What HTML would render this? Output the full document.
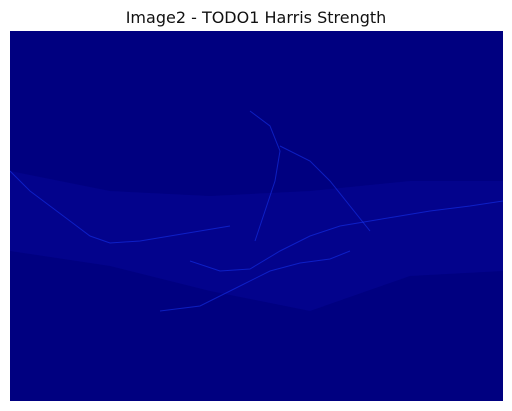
<!DOCTYPE html>
<html><head><meta charset="utf-8"><style>
html,body{margin:0;padding:0;background:#fff;width:512px;height:411px;overflow:hidden}
</style></head><body>
<svg width="512" height="411" xmlns="http://www.w3.org/2000/svg">
<text x="256" y="23" text-anchor="middle" font-family="DejaVu Sans, Liberation Sans, sans-serif" font-size="16" fill="#111">Image2 - TODO1 Harris Strength</text>
<rect x="10" y="31" width="493" height="370" fill="#000080"/>
<defs><clipPath id="c"><rect x="10" y="31" width="493" height="370"/></clipPath></defs>
<g id="marks" clip-path="url(#c)"></g>
</svg>
<script>
// image-space (0..493 x 0..370) feature traces of strong response
const ridgeA = [[0,140],[20,160],[40,175],[60,190],[80,205],[100,212],[130,210],[160,205],[190,200],[220,195]];
const ridgeB = [[180,230],[210,240],[240,238],[270,220],[300,205],[330,195],[360,190],[390,185],[420,180],[460,175],[493,170]];
const ridgeC = [[150,280],[190,275],[230,255],[260,240],[290,232],[320,228],[340,220]];
const ridgeD = [[240,80],[260,95],[270,120],[265,150],[255,180],[245,210]];
const ridgeE = [[270,115],[300,130],[320,150],[340,175],[360,200]];
const bandTop = [[0,140],[100,160],[200,165],[300,160],[400,150],[493,150]];
const bandBot = [[0,220],[100,235],[200,260],[300,280],[400,245],[493,240]];
const traces = [ridgeA, ridgeB, ridgeC, ridgeD, ridgeE];
const x0 = 10, y0 = 31;
const sx = v => x0 + v, sy = v => y0 + v;
const g = document.getElementById('marks');
const ns = 'http://www.w3.org/2000/svg';
const band = document.createElementNS(ns, 'polygon');
band.setAttribute('points', bandTop.concat(bandBot.slice().reverse()).map(p => sx(p[0]) + ',' + sy(p[1])).join(' '));
band.setAttribute('fill', '#0a0ab0');
band.setAttribute('opacity', '0.25');


g.appendChild(band);
traces.forEach((t, i) => {
  const pl = document.createElementNS(ns, 'polyline');
  pl.setAttribute('points', t.map(p => sx(p[0]) + ',' + sy(p[1])).join(' '));
  pl.setAttribute('fill', 'none');
  pl.setAttribute('stroke', '#1a3cff');
  pl.setAttribute('stroke-width', '1');
  pl.setAttribute('opacity', '0.5');
  
  
  g.appendChild(pl);
});
</script>
</body></html>
